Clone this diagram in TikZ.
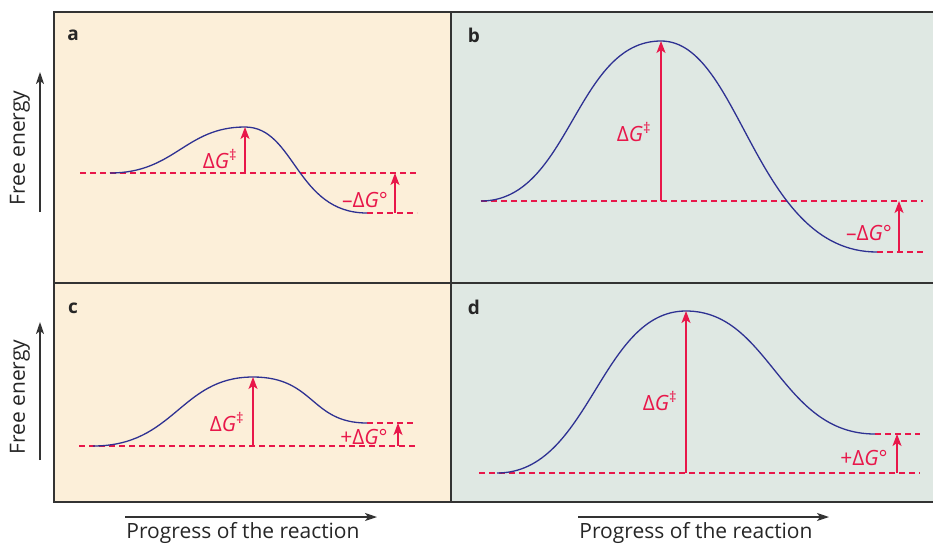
\documentclass[tikz,border=0pt]{standalone}
\usepackage{fontspec}
\setmainfont{Open Sans}
\usetikzlibrary{arrows.meta}
\definecolor{beige}{HTML}{FCEFD9}
\definecolor{mint}{HTML}{DFE8E3}
\definecolor{frame}{HTML}{333333}
\definecolor{curve}{HTML}{2E3192}
\definecolor{hot}{HTML}{E8174A}
\tikzset{
  panel/.style={draw=frame, line width=1.4pt},
  energy/.style={draw=curve, line width=1.3pt},
  level/.style={draw=hot, line width=1.2pt, dash pattern=on 6pt off 4pt},
  rise/.style={draw=hot, line width=1.6pt, -{Stealth[length=12pt,width=9pt,inset=3pt]}},
  axis/.style={draw=frame, line width=1.5pt, -{Stealth[length=12pt,width=8pt,inset=3pt]}},
  lbl/.style={text=hot, font=\fontsize{21}{21}\selectfont, inner sep=0pt},
  tag/.style={font=\fontsize{19}{19}\selectfont\bfseries, text=black!85, inner sep=0pt},
  axtext/.style={font=\fontsize{21}{21}\selectfont, text=black!85, inner sep=0pt}
}
\newcommand{\dg}{Δ\textit{G}}
\begin{document}
\begin{tikzpicture}[x=1pt,y=-1pt]
\useasboundingbox (0,0) rectangle (933,544);
% panels
\fill[beige] (54,12) rectangle (451,283);
\fill[beige] (54,283) rectangle (451,502);
\fill[mint] (451,12) rectangle (940,283);
\fill[mint] (451,283) rectangle (940,502);
\draw[panel] (54,12) rectangle (940,502);
\draw[panel] (451,12) -- (451,502);
\draw[panel] (54,283) -- (940,283);
\node[tag] (ta) at (73,35) {a};
\node[tag] (tb) at (474,35) {b};
\node[tag] (tc) at (73,308) {c};
\node[tag] (td) at (474,307) {d};
% axes
\coordinate (ya0) at (40,212); \coordinate (ya1) at (40,72);
\draw[axis] (ya0) -- (ya1);
\node[axtext, rotate=90] (fea) at (20,148) {Free energy};
\coordinate (yc0) at (40,460); \coordinate (yc1) at (40,322);
\draw[axis] (yc0) -- (yc1);
\node[axtext, rotate=90] (fec) at (20,397) {Free energy};
\coordinate (xl0) at (125,517); \coordinate (xl1) at (377,517);
\draw[axis] (xl0) -- (xl1);
\node[axtext] (prl) at (243,533) {Progress of the reaction};
\coordinate (xr0) at (578,517); \coordinate (xr1) at (829,517);
\draw[axis] (xr0) -- (xr1);
\node[axtext] (prr) at (696,533) {Progress of the reaction};
% ---- panel a
\coordinate (aS) at (110,173); \coordinate (aP) at (245,127); \coordinate (aE) at (367,213);
\draw[level] (80,173) -- (417,173);
\draw[level] (aE) -- (417,213);
\draw[energy] (aS) .. controls (175,173) and (185,127) .. (aP)
  .. controls (295,127) and (296,213) .. (aE);
\coordinate (aB) at (245,173);
\draw[rise] (aB) -- (aP);
\coordinate (aR0) at (395,213); \coordinate (aR1) at (395,173);
\draw[rise] (aR0) -- (aR1);
\node[lbl] (la1) at (220,159) {\dg\textsuperscript{‡}};
\node[lbl] (la2) at (365,200) {–\dg°};
% ---- panel b
\coordinate (bS) at (481,201); \coordinate (bP) at (661,41); \coordinate (bE) at (877,252);
\draw[level] (481,201) -- (923,201);
\draw[level] (bE) -- (923,252);
\draw[energy] (bS) .. controls (570,201) and (575,41) .. (bP)
  .. controls (741,41) and (754,252) .. (bE);
\coordinate (bB) at (661,201);
\draw[rise] (bB) -- (bP);
\coordinate (bR0) at (899,252); \coordinate (bR1) at (899,201);
\draw[rise] (bR0) -- (bR1);
\node[lbl] (lb1) at (634,132) {\dg\textsuperscript{‡}};
\node[lbl] (lb2) at (869,233) {–\dg°};
% ---- panel c
\coordinate (cS) at (93,446); \coordinate (cP) at (253,377); \coordinate (cE) at (367,423);
\draw[level] (79,446) -- (415,446);
\draw[level] (cE) -- (415,423);
\draw[energy] (cS) .. controls (175,446) and (180,377) .. (cP)
  .. controls (315,377) and (310,423) .. (cE);
\coordinate (cB) at (253,446);
\draw[rise] (cB) -- (cP);
\coordinate (cR0) at (398,446); \coordinate (cR1) at (398,423);
\draw[rise] (cR0) -- (cR1);
\node[lbl] (lc1) at (227,422) {\dg\textsuperscript{‡}};
\node[lbl] (lc2) at (364,437) {+\dg°};
% ---- panel d
\coordinate (dS) at (497,473); \coordinate (dP) at (686,311); \coordinate (dE) at (875,434);
\draw[level] (479,473) -- (920,473);
\draw[level] (dE) -- (920,434);
\draw[energy] (dS) .. controls (590,473) and (600,311) .. (dP)
  .. controls (770,311) and (780,434) .. (dE);
\coordinate (dB) at (686,473);
\draw[rise] (dB) -- (dP);
\coordinate (dR0) at (897,473); \coordinate (dR1) at (897,434);
\draw[rise] (dR0) -- (dR1);
\node[lbl] (ld1) at (660,401) {\dg\textsuperscript{‡}};
\node[lbl] (ld2) at (864,458) {+\dg°};
\end{tikzpicture}
\end{document}
